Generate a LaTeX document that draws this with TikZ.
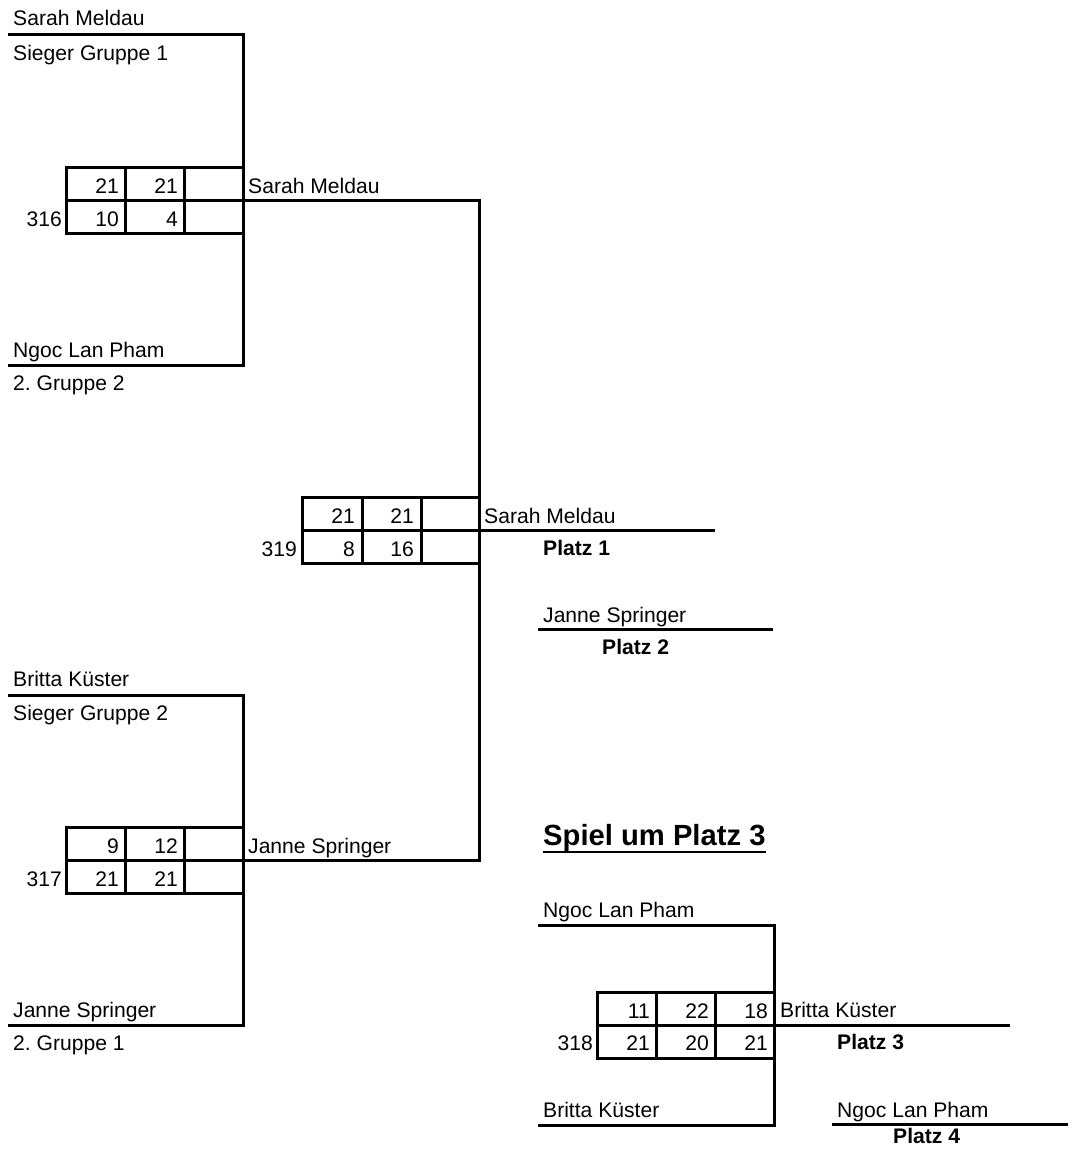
\documentclass[tikz,border=0pt]{standalone}
\usepackage{fontspec}
\setmainfont{Liberation Sans}
\frenchspacing
\newcommand{\fsz}{\fontsize{21.1}{24}\selectfont}
\newcommand{\fhd}{\fontsize{29.2}{34}\selectfont\bfseries}
\tikzset{
  ln/.style={line width=3pt, line join=miter},
  txt/.style={inner sep=0pt, anchor=base west, font=\fsz},
  num/.style={inner sep=0pt, anchor=base east, font=\fsz},
  plz/.style={inner sep=0pt, anchor=base west, font=\fsz\bfseries},
  hd/.style={inner sep=0pt, anchor=base west, font=\fhd}
}
\begin{document}
\begin{tikzpicture}[x=1pt,y=-1pt]
\useasboundingbox[fill=white] (0,0) rectangle (1072,1153);

% ---------- match 316 ----------
\coordinate (p316a) at (8,35);
\coordinate (p316b) at (243,35);
\coordinate (p316c) at (243,365);
\coordinate (p316d) at (8,365);
\draw[ln] (p316a) -- (p316b) -- (p316c) -- (p316d);
\draw[ln] (66,167) rectangle (243,233);
\draw[ln] (125,167) -- (125,233);
\draw[ln] (184,167) -- (184,233);
\draw[ln] (66,200) -- (243,200);
\node[txt] (t316a) at (13,26) {Sarah Meldau};
\node[txt] (t316b) at (13,61) {Sieger Gruppe 1};
\node[txt] (t316c) at (13,357) {Ngoc Lan Pham};
\node[txt] (t316d) at (13,390) {2. Gruppe 2};
\node[num] (s316a) at (119,193) {21};
\node[num] (s316b) at (178,193) {21};
\node[num] (s316c) at (119,226) {10};
\node[num] (s316d) at (178,226) {4};
\node[num] (n316) at (62,226) {316};
\node[txt] (w316) at (248,193) {Sarah Meldau};

% ---------- match 317 ----------
\coordinate (p317a) at (8,695);
\coordinate (p317b) at (243,695);
\coordinate (p317c) at (243,1025);
\coordinate (p317d) at (8,1025);
\draw[ln] (p317a) -- (p317b) -- (p317c) -- (p317d);
\draw[ln] (66,827) rectangle (243,893);
\draw[ln] (125,827) -- (125,893);
\draw[ln] (184,827) -- (184,893);
\draw[ln] (66,860) -- (243,860);
\node[txt] (t317a) at (13,686) {Britta Küster};
\node[txt] (t317b) at (13,720) {Sieger Gruppe 2};
\node[txt] (t317c) at (13,1017) {Janne Springer};
\node[txt] (t317d) at (13,1050) {2. Gruppe 1};
\node[num] (s317a) at (119,853) {9};
\node[num] (s317b) at (178,853) {12};
\node[num] (s317c) at (119,886) {21};
\node[num] (s317d) at (178,886) {21};
\node[num] (n317) at (62,886) {317};
\node[txt] (w317) at (248,853) {Janne Springer};

% ---------- final 319 ----------
\coordinate (p319a) at (243,200);
\coordinate (p319b) at (479,200);
\coordinate (p319c) at (479,860);
\coordinate (p319d) at (243,860);
\draw[ln] (p319a) -- (p319b) -- (p319c) -- (p319d);
\draw[ln] (302,497) rectangle (479,563);
\draw[ln] (362,497) -- (362,563);
\draw[ln] (421,497) -- (421,563);
\draw[ln] (302,530) -- (479,530);
\coordinate (p319e) at (479,530);
\coordinate (p319f) at (715,530);
\draw[ln] (p319e) -- (p319f);
\node[num] (s319a) at (355,523) {21};
\node[num] (s319b) at (414,523) {21};
\node[num] (s319c) at (355,556) {8};
\node[num] (s319d) at (414,556) {16};
\node[num] (n319) at (297,556) {319};
\node[txt] (w319) at (484,523) {Sarah Meldau};
\node[plz] (pl1) at (543,555) {Platz 1};

% ---------- Platz 2 ----------
\coordinate (pl2a) at (538,629);
\coordinate (pl2b) at (773,629);
\draw[ln] (pl2a) -- (pl2b);
\node[txt] (t2) at (543,622) {Janne Springer};
\node[plz] (pl2) at (602,654) {Platz 2};

% ---------- Spiel um Platz 3 ----------
\node[hd] (head) at (543,845) {Spiel um Platz 3};
\draw[line width=2.6pt] ([yshift=-7pt]head.base west) -- ([yshift=-7pt]head.base east);

% ---------- match 318 ----------
\coordinate (p318a) at (538,925);
\coordinate (p318b) at (774,925);
\coordinate (p318c) at (774,1125);
\coordinate (p318d) at (538,1125);
\draw[ln] (p318a) -- (p318b) -- (p318c) -- (p318d);
\draw[ln] (597,992) rectangle (774,1058);
\draw[ln] (656,992) -- (656,1058);
\draw[ln] (715,992) -- (715,1058);
\draw[ln] (597,1025) -- (774,1025);
\coordinate (p318e) at (774,1025);
\coordinate (p318f) at (1010,1025);
\draw[ln] (p318e) -- (p318f);
\node[txt] (t318a) at (543,917) {Ngoc Lan Pham};
\node[txt] (t318b) at (543,1117) {Britta Küster};
\node[num] (s318a) at (650,1018) {11};
\node[num] (s318b) at (709,1018) {22};
\node[num] (s318c) at (768,1018) {18};
\node[num] (s318d) at (650,1050) {21};
\node[num] (s318e) at (709,1050) {20};
\node[num] (s318f) at (768,1050) {21};
\node[num] (n318) at (593,1050) {318};
\node[txt] (w318) at (780,1017) {Britta Küster};
\node[plz] (pl3) at (837,1049) {Platz 3};

% ---------- Platz 4 ----------
\coordinate (pl4a) at (832,1124);
\coordinate (pl4b) at (1068,1124);
\draw[ln] (pl4a) -- (pl4b);
\node[txt] (t4) at (837,1117) {Ngoc Lan Pham};
\node[plz] (pl4) at (893,1143) {Platz 4};
\end{tikzpicture}
\end{document}
